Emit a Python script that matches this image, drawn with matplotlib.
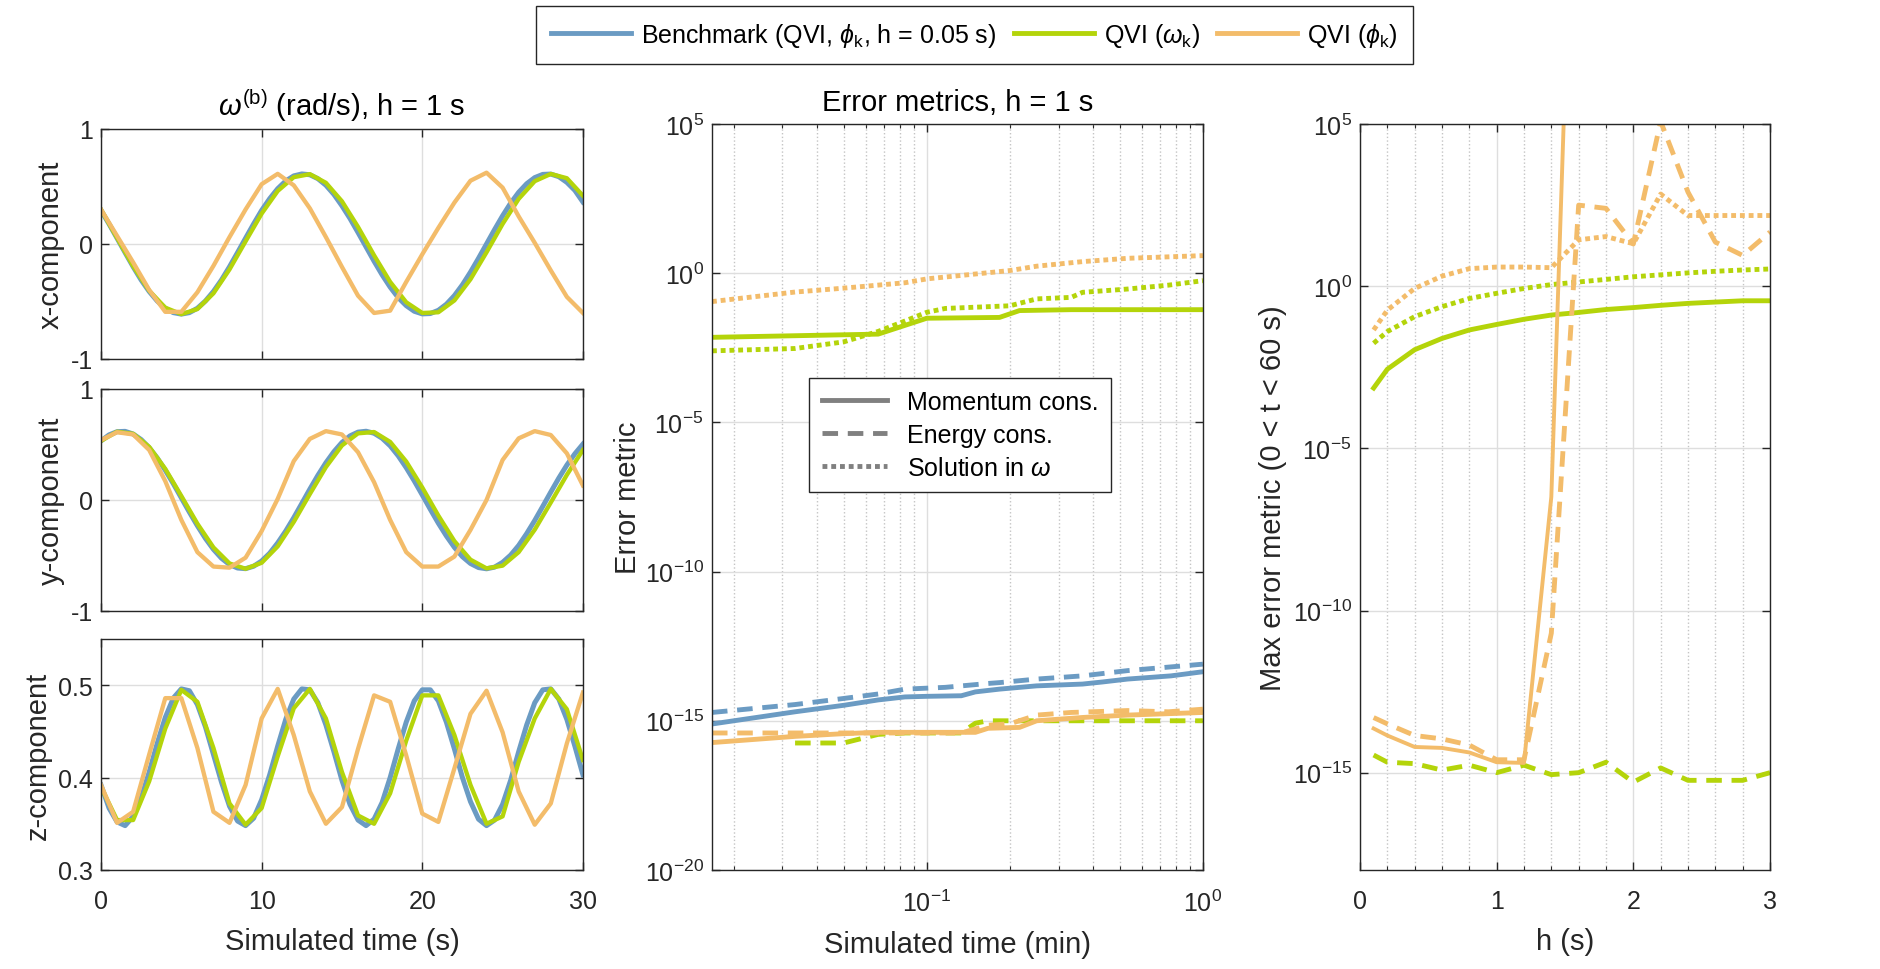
import numpy as np
import matplotlib
matplotlib.use('Agg')
from matplotlib import pyplot as plt
from matplotlib.lines import Line2D
from matplotlib.ticker import FuncFormatter, LogLocator, NullLocator, NullFormatter, MultipleLocator

plt.rcParams['font.family'] = ['Liberation Sans', 'DejaVu Sans']
plt.rcParams['mathtext.fontset'] = 'custom'
plt.rcParams['mathtext.rm'] = 'Liberation Sans'
plt.rcParams['mathtext.it'] = 'Liberation Sans:italic'
plt.rcParams['axes.unicode_minus'] = False

# Angular velocity, h = 1 s. Benchmark sampled every 0.5 s, QVI runs every 1 s.
t_bench = np.arange(0, 30.5, 0.5)
t_step = np.arange(0, 31)

wx_bench = [0.292, 0.174, 0.050, -0.075, -0.198, -0.313, -0.413, -0.496, -0.559, -0.597, -0.610,
            -0.597, -0.559, -0.496, -0.413, -0.313, -0.198, -0.075, 0.050, 0.174, 0.292,
            0.394, 0.481, 0.548, 0.592, 0.609, 0.602, 0.568, 0.511, 0.431, 0.332,
            0.222, 0.100, -0.025, -0.150, -0.268, -0.375, -0.466, -0.536, -0.585, -0.608,
            -0.605, -0.577, -0.524, -0.449, -0.355, -0.245, -0.125, 0.000, 0.125, 0.245,
            0.355, 0.449, 0.524, 0.577, 0.605, 0.608, 0.585, 0.536, 0.466, 0.365]
wy_bench = [0.532, 0.586, 0.615, 0.618, 0.594, 0.544, 0.471, 0.378, 0.268, 0.147, 0.019,
            -0.109, -0.232, -0.346, -0.445, -0.525, -0.582, -0.613, -0.619, -0.597, -0.550,
            -0.480, -0.387, -0.280, -0.160, -0.032, 0.097, 0.221, 0.335, 0.435, 0.518,
            0.577, 0.611, 0.619, 0.601, 0.556, 0.488, 0.398, 0.291, 0.172, 0.045,
            -0.084, -0.209, -0.324, -0.427, -0.511, -0.572, -0.609, -0.620, -0.605, -0.562,
            -0.497, -0.410, -0.303, -0.185, -0.058, 0.071, 0.197, 0.314, 0.416, 0.503]
wz_bench = [0.392, 0.367, 0.352, 0.348, 0.358, 0.378, 0.406, 0.437, 0.465, 0.486, 0.496,
            0.494, 0.479, 0.455, 0.425, 0.395, 0.369, 0.353, 0.348, 0.356, 0.376,
            0.403, 0.434, 0.463, 0.485, 0.496, 0.495, 0.481, 0.457, 0.428, 0.397,
            0.371, 0.354, 0.348, 0.355, 0.373, 0.400, 0.431, 0.460, 0.483, 0.495,
            0.495, 0.483, 0.460, 0.431, 0.400, 0.374, 0.355, 0.348, 0.354, 0.371,
            0.397, 0.428, 0.457, 0.481, 0.495, 0.496, 0.485, 0.463, 0.434, 0.403]

wx_omega = [0.30, 0.053, -0.192, -0.406, -0.554, -0.610, -0.566, -0.429, -0.221, 0.023, 0.264,
            0.461, 0.581, 0.607, 0.532, 0.371, 0.148, -0.099, -0.330, -0.507, -0.600,
            -0.594, -0.491, -0.307, -0.072, 0.174, 0.392, 0.546, 0.609, 0.572, 0.420]
wy_omega = [0.532, 0.615, 0.596, 0.478, 0.280, 0.036, -0.214, -0.428, -0.572, -0.620, -0.566,
            -0.418, -0.198, 0.053, 0.296, 0.491, 0.600, 0.612, 0.523, 0.346, 0.112,
            -0.141, -0.371, -0.538, -0.616, -0.592, -0.470, -0.268, -0.023, 0.226, 0.450]
wz_omega = [0.390, 0.354, 0.354, 0.396, 0.453, 0.495, 0.482, 0.432, 0.372, 0.349, 0.367,
            0.423, 0.475, 0.496, 0.464, 0.406, 0.359, 0.350, 0.383, 0.440, 0.489,
            0.489, 0.446, 0.392, 0.350, 0.358, 0.417, 0.464, 0.496, 0.474, 0.419]

wx_phi = [0.30, 0.07, -0.16, -0.40, -0.59, -0.59, -0.42, -0.19, 0.06, 0.30, 0.52,
          0.61, 0.51, 0.31, 0.06, -0.20, -0.45, -0.60, -0.58, -0.33, -0.09,
          0.14, 0.36, 0.55, 0.62, 0.49, 0.24, 0.01, -0.23, -0.46, -0.60]
wy_phi = [0.54, 0.61, 0.59, 0.45, 0.17, -0.18, -0.47, -0.60, -0.61, -0.52, -0.28,
          0.01, 0.35, 0.55, 0.62, 0.59, 0.43, 0.16, -0.18, -0.47, -0.60,
          -0.60, -0.51, -0.27, 0.00, 0.36, 0.555, 0.62, 0.585, 0.42, 0.13]
wz_phi = [0.392, 0.351, 0.363, 0.425, 0.486, 0.486, 0.432, 0.363, 0.351, 0.392, 0.464,
          0.496, 0.446, 0.385, 0.350, 0.368, 0.431, 0.489, 0.482, 0.424, 0.361,
          0.352, 0.410, 0.469, 0.494, 0.449, 0.385, 0.349, 0.372, 0.437, 0.492]

# Error metrics vs simulated time (seconds; plotted in minutes), h = 1 s
bench_mom_t = [1, 2, 3, 4, 5, 6, 8, 9, 11, 15, 22, 26, 32, 46, 60]
bench_mom = [7.8e-16, 2.0e-15, 3.3e-15, 5.0e-15, 6.3e-15, 6.6e-15, 6.9e-15, 9.3e-15,
             1.15e-14, 1.48e-14, 1.70e-14, 2.0e-14, 2.5e-14, 3.2e-14, 4.4e-14]
bench_en_t = [1, 2, 3, 4, 5, 7, 10, 11, 15, 22, 32, 60]
bench_en = [1.9e-15, 3.5e-15, 5.6e-15, 7.9e-15, 1.15e-14, 1.32e-14, 1.78e-14, 1.9e-14,
            2.5e-14, 3.2e-14, 4.8e-14, 7.9e-14]

omega_mom_t = [1, 4, 6, 11, 13, 20, 60]
omega_mom = [7.1e-3, 9.1e-3, 3.1e-2, 3.3e-2, 5.6e-2, 6.0e-2, 6.0e-2]
omega_en_t = [2, 3, 4, 5, 8, 9, 10, 60]
omega_en = [1.8e-16, 1.8e-16, 3.5e-16, 3.9e-16, 3.9e-16, 8.3e-16, 1.0e-15, 1.0e-15]
omega_sol_t = [1, 2, 3, 4, 5, 6, 7, 12, 15, 20, 22, 32, 45, 60]
omega_sol = [2.5e-3, 3.0e-3, 5.0e-3, 1.12e-2, 2.5e-2, 4.9e-2, 6.6e-2, 8.1e-2, 0.138,
             0.155, 0.229, 0.295, 0.398, 0.562]

phi_mom_t = [1, 2, 3, 4, 9, 10, 13, 15, 22, 32, 60]
phi_mom = [1.86e-16, 3.0e-16, 3.7e-16, 4.1e-16, 4.1e-16, 5.6e-16, 6.0e-16, 1.0e-15,
           1.29e-15, 1.55e-15, 1.9e-15]
phi_en_t = [1, 8, 10, 12, 15, 20, 32, 45, 60]
phi_en = [3.9e-16, 3.9e-16, 7.1e-16, 7.9e-16, 1.55e-15, 1.9e-15, 2.2e-15, 2.0e-15, 2.45e-15]
phi_sol_t = [1, 2, 3, 5, 6, 12, 15, 22, 32, 60]
phi_sol = [0.112, 0.234, 0.316, 0.479, 0.646, 1.23, 1.72, 2.45, 3.16, 3.89]

# Max error over 0 < t < 60 s vs step size
h_vals = [0.1, 0.2, 0.4, 0.6, 0.8, 1.0, 1.2, 1.4, 1.6, 1.8, 2.0, 2.2, 2.4, 2.6, 2.8, 3.0]
max_omega_mom = [7.24e-4, 2.75e-3, 1.10e-2, 2.45e-2, 4.47e-2, 6.61e-2, 9.55e-2, 0.129,
                 0.155, 0.191, 0.219, 0.257, 0.295, 0.324, 0.355, 0.355]
max_omega_en = [3.5e-15, 2.1e-15, 1.9e-15, 1.2e-15, 1.7e-15, 1.0e-15, 1.7e-15, 8.7e-16,
                1.0e-15, 2.1e-15, 5.1e-16, 1.4e-15, 5.8e-16, 5.8e-16, 5.8e-16, 1.0e-15]
max_omega_sol = [0.0174, 0.0398, 0.115, 0.234, 0.417, 0.603, 0.851, 1.12, 1.35, 1.62,
                 1.95, 2.24, 2.57, 2.88, 3.16, 3.39]
max_phi_mom = [2.3e-14, 1.4e-14, 6.2e-15, 5.8e-15, 4.2e-15, 2.1e-15, 2.0e-15, 3.2e-7, 1e19]
max_phi_en = [5.0e-14, 3.2e-14, 1.4e-14, 1.1e-14, 7.1e-15, 2.5e-15, 2.5e-15, 2.0e-11,
              316, 251, 20, 1.2e5, 794, 22.9, 8.9, 46.8]
max_phi_sol = [0.0447, 0.182, 0.851, 2.04, 3.47, 3.89, 3.89, 3.72, 26.9, 33.9, 20.4,
               692, 151, 151, 151, 151]

BLUE = '#6b9bc3'
GREEN = '#b4d40a'
ORANGE = '#f3bc6a'
INK = '#262626'
GRID = '#dedede'
DASH = (0, (3.2, 2.0))
DOT = (0, (1.0, 0.8))


def frame(ax):
    for s in ax.spines.values():
        s.set_color(INK)
        s.set_linewidth(1.0)
    ax.tick_params(which='both', direction='in', top=True, right=True,
                   colors=INK, labelsize=18)
    ax.tick_params(which='major', length=6, width=1.0)
    ax.tick_params(which='minor', length=3, width=0.8)
    ax.tick_params(axis='x', pad=14)
    ax.tick_params(axis='y', pad=6)
    ax.grid(True, which='major', color=GRID, lw=1.0)
    ax.set_axisbelow(True)


def pow10(v, pos):
    return r'$10^{%d}$' % round(np.log10(v))


fig = plt.figure(figsize=(18.81, 9.70), dpi=100)

# Left column: body rates
ax_x = fig.add_axes([0.0537, 0.6289, 0.2562, 0.2371])
ax_y = fig.add_axes([0.0537, 0.3691, 0.2562, 0.2289])
ax_z = fig.add_axes([0.0537, 0.1021, 0.2562, 0.2381])
comps = [(ax_x, wx_bench, wx_omega, wx_phi, 'x-component'),
         (ax_y, wy_bench, wy_omega, wy_phi, 'y-component'),
         (ax_z, wz_bench, wz_omega, wz_phi, 'z-component')]
for ax, b, o, p, name in comps:
    ax.plot(t_bench, b, color=BLUE, lw=3.6)
    ax.plot(t_step, o, color=GREEN, lw=3.1)
    ax.plot(t_step, p, color=ORANGE, lw=3.1)
    ax.set_xlim(0, 30)
    ax.set_xticks([0, 10, 20, 30])
    ax.set_ylabel(name, fontsize=21, color=INK)
    frame(ax)
for ax in (ax_x, ax_y):
    ax.set_ylim(-1, 1)
    ax.set_yticks([-1, 0, 1])
    ax.tick_params(labelbottom=False)
ax_z.set_ylim(0.3, 0.55)
ax_z.set_yticks([0.3, 0.4, 0.5])
ax_z.set_xlabel('Simulated time (s)', fontsize=21, color=INK, labelpad=10)
ax_x.set_title(r'$\omega^{\mathrm{(b)}}$ (rad/s), h = 1 s', fontsize=21, color='k', pad=10)

# Middle: error metrics over time
ax_m = fig.add_axes([0.3785, 0.1021, 0.2610, 0.7690])
to_min = lambda ts: np.array(ts) / 60.0
ax_m.plot(to_min(bench_mom_t), bench_mom, color=BLUE, lw=3.5)
ax_m.plot(to_min(bench_en_t), bench_en, color=BLUE, lw=3.5, ls=DASH)
ax_m.plot(to_min(omega_mom_t), omega_mom, color=GREEN, lw=3.5)
ax_m.plot(to_min(omega_en_t), omega_en, color=GREEN, lw=3.5, ls=DASH)
ax_m.plot(to_min(omega_sol_t), omega_sol, color=GREEN, lw=3.5, ls=DOT)
ax_m.plot(to_min(phi_mom_t), phi_mom, color=ORANGE, lw=3.5)
ax_m.plot(to_min(phi_en_t), phi_en, color=ORANGE, lw=3.5, ls=DASH)
ax_m.plot(to_min(phi_sol_t), phi_sol, color=ORANGE, lw=3.5, ls=DOT)
ax_m.set_xscale('log')
ax_m.set_yscale('log')
ax_m.set_xlim(1 / 60, 1)
ax_m.set_ylim(1e-20, 1e5)
ax_m.set_xticks([0.1, 1])
ax_m.xaxis.set_major_formatter(FuncFormatter(pow10))
ax_m.xaxis.set_minor_locator(LogLocator(base=10, subs=np.arange(2, 10)))
ax_m.xaxis.set_minor_formatter(NullFormatter())
ax_m.set_yticks([1e-20, 1e-15, 1e-10, 1e-5, 1e0, 1e5])
ax_m.yaxis.set_major_formatter(FuncFormatter(pow10))
ax_m.yaxis.set_minor_locator(NullLocator())
frame(ax_m)
ax_m.grid(True, which='minor', axis='x', color='#c4c4c4', ls=':', lw=1.0)
ax_m.set_title('Error metrics, h = 1 s', fontsize=21, color='k', pad=10)
ax_m.set_xlabel('Simulated time (min)', fontsize=21, color=INK, labelpad=10)
ax_m.set_ylabel('Error metric', fontsize=21, color=INK, labelpad=2)
kinds = [Line2D([], [], color='#808080', lw=3.5),
         Line2D([], [], color='#808080', lw=3.5, ls=DASH),
         Line2D([], [], color='#808080', lw=3.5, ls=DOT)]
leg = ax_m.legend(kinds, ['Momentum cons.', 'Energy cons.', r'Solution in $\omega$'],
                  loc='upper left', bbox_to_anchor=(0.198, 0.66), fontsize=18,
                  handlelength=2.6, fancybox=False, edgecolor=INK, framealpha=1,
                  borderpad=0.5, labelspacing=0.35, borderaxespad=0)
leg.get_frame().set_linewidth(1.0)

# Right: max error vs step size
ax_r = fig.add_axes([0.7230, 0.1021, 0.2180, 0.7690])
ax_r.plot(h_vals, max_omega_mom, color=GREEN, lw=3.5)
ax_r.plot(h_vals, max_omega_en, color=GREEN, lw=3.5, ls=DASH)
ax_r.plot(h_vals, max_omega_sol, color=GREEN, lw=3.5, ls=DOT)
ax_r.plot(h_vals[:len(max_phi_mom)], max_phi_mom, color=ORANGE, lw=2.8)
ax_r.plot(h_vals, max_phi_en, color=ORANGE, lw=3.5, ls=DASH)
ax_r.plot(h_vals, max_phi_sol, color=ORANGE, lw=3.5, ls=DOT)
ax_r.set_yscale('log')
ax_r.set_xlim(0, 3)
ax_r.set_ylim(1e-18, 1e5)
ax_r.set_xticks([0, 1, 2, 3])
ax_r.xaxis.set_minor_locator(MultipleLocator(0.2))
ax_r.set_yticks([1e-15, 1e-10, 1e-5, 1e0, 1e5])
ax_r.yaxis.set_major_formatter(FuncFormatter(pow10))
ax_r.yaxis.set_minor_locator(NullLocator())
frame(ax_r)
ax_r.grid(True, which='minor', axis='x', color='#c4c4c4', ls=':', lw=1.0)
ax_r.set_xlabel('h (s)', fontsize=21, color=INK, labelpad=10)
ax_r.set_ylabel('Max error metric (0 < t < 60 s)', fontsize=21, color=INK)

# Shared legend across the top
series = [Line2D([], [], color=BLUE, lw=3.5),
          Line2D([], [], color=GREEN, lw=3.5),
          Line2D([], [], color=ORANGE, lw=3.5)]
names = [r'Benchmark (QVI, $\phi_{\mathrm{k}}$, h = 0.05 s)',
         r'QVI ($\omega_{\mathrm{k}}$)', r'QVI ($\phi_{\mathrm{k}}$)']
top = fig.legend(series, names, loc='upper left', bbox_to_anchor=(536 / 1881, 1 - 7 / 970),
                 ncol=3, fontsize=18, handlelength=3.2, columnspacing=0.7,
                 handletextpad=0.4, fancybox=False, edgecolor=INK, framealpha=1,
                 borderpad=0.6, borderaxespad=0)
top.get_frame().set_linewidth(1.0)

fig.savefig('out.png', dpi=100)
